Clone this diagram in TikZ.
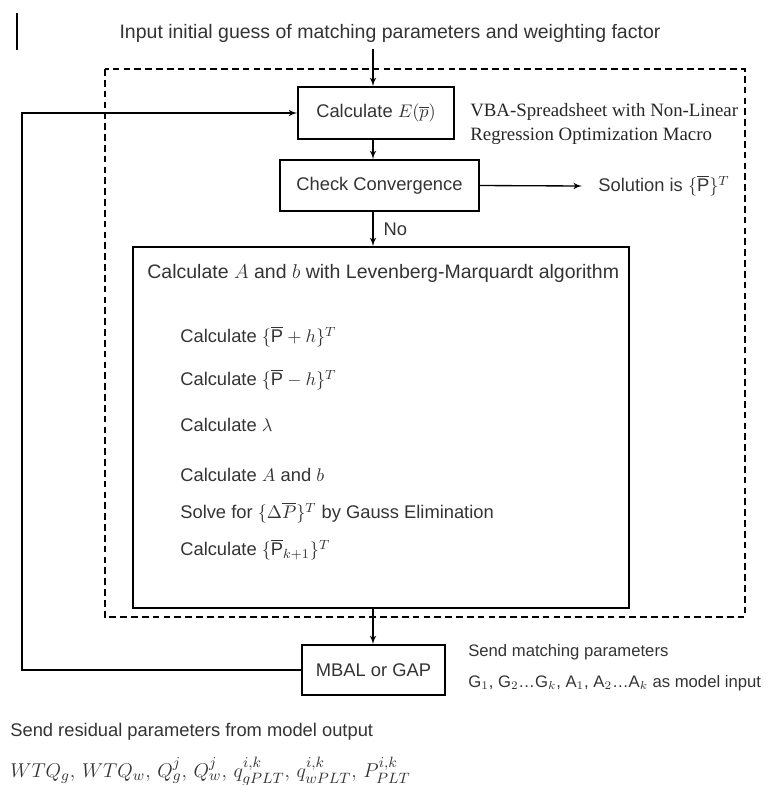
\documentclass[tikz,border=0pt]{standalone}
\usepackage{fontspec}
\setmainfont{Liberation Sans}
\newfontfamily\vbafont{Liberation Serif}
\usepackage{amsmath}
\usetikzlibrary{calc}
\usetikzlibrary{arrows}

\begin{document}
\begin{tikzpicture}[x=0.6pt, y=-0.6pt, >=latex',
  box/.style={draw, line width=0.9pt, inner sep=0pt, text=black!80, font=\fontsize{11}{13}\selectfont},
  txt/.style={inner sep=0pt, text=black!80, font=\fontsize{11}{13}\selectfont},
  big/.style={txt, font=\fontsize{11.7}{14}\selectfont},
  small/.style={txt, font=\fontsize{10}{12}\selectfont},
  vba/.style={inner sep=0pt, text=black!85, font=\vbafont\fontsize{11.3}{13.5}\selectfont},
  flow/.style={->, line width=0.8pt}]
\useasboundingbox (0,0) rectangle (777,785);
\coordinate (spine) at (373,0);
\coordinate (loop) at (22,0);
% stray mark and the spreadsheet frame
\draw[line width=1.6pt] (17,13) -- (17,50);
\draw[line width=0.7pt, dash pattern=on 4pt off 2.5pt] (105,69) rectangle (745,617);

\node[big, inner sep=4pt] (input) at (390,33) {Input initial guess of matching parameters and weighting factor};
\node[box, minimum width=93.6pt, minimum height=31.2pt] (calc) at (376,113) {Calculate $E(\overline{p})$};
\node[vba, anchor=west, align=left] (vba) at (470,124) {VBA-Spreadsheet with Non-Linear\\[1pt]Regression Optimization Macro};
\node[box, minimum width=119.4pt, minimum height=30.6pt] (check) at (379.5,185.5) {Check Convergence};
\node[txt, anchor=west] (sol) at (598,186) {Solution is $\{\overline{\mathrm{P}}\}^{T}$};

% Levenberg-Marquardt block
\node[box, minimum width=297.6pt, minimum height=216.6pt] (lm) at (381,427.5) {};
\node[big, anchor=west] (lmhead) at (147,273) {Calculate $A$ and $b$ with Levenberg-Marquardt algorithm};
\foreach \y/\t [count=\i] in {337/{Calculate $\{\overline{\mathrm{P}}+h\}^{T}$},
  380/{Calculate $\{\overline{\mathrm{P}}-h\}^{T}$},
  425/{Calculate $\lambda$},
  475/{Calculate $A$ and $b$},
  513/{Solve for $\{\Delta\overline{P}\}^{T}$ by Gauss Elimination},
  550/{Calculate $\{\overline{\mathrm{P}}_{k+1}\}^{T}$}}
  \node[txt, anchor=west] (step\i) at (180,\y) {\t};

\node[box, minimum width=85.8pt, minimum height=30pt] (mbal) at (373.5,670) {MBAL or GAP};
\node[small, anchor=west] (send) at (468,652) {Send matching parameters};
\node[small, anchor=west] (model) at (468,683) {G$_1$, G$_2$\ldots G$_k$, A$_1$, A$_2$\ldots A$_k$ as model input};
\node[txt, anchor=west] (resid) at (10,732) {Send residual parameters from model output};
\node[txt, anchor=west, font=\fontsize{12.5}{15}\selectfont] (resvals) at (10,772)
  {$WTQ_g,\, WTQ_w,\, Q_g^j,\, Q_w^j,\, q_{gPLT}^{i,k},\, q_{wPLT}^{i,k},\, P_{PLT}^{i,k}$};

\draw[flow] (input.south -| spine) -- (calc.north -| spine);
\draw[flow] (calc.south -| spine) -- (check.north -| spine);
\draw[flow] (check.south -| spine) -- node[txt, right=6pt] (no) {No} (lm.north -| spine);
\draw[flow] (check.east) -- ($(sol.west)+(-16,0)$);
\draw[flow] (lm.south -| spine) -- (mbal.north -| spine);
\draw[flow] (mbal.west) -- (mbal.west -| loop) |- (calc.west);
\end{tikzpicture}
\end{document}
